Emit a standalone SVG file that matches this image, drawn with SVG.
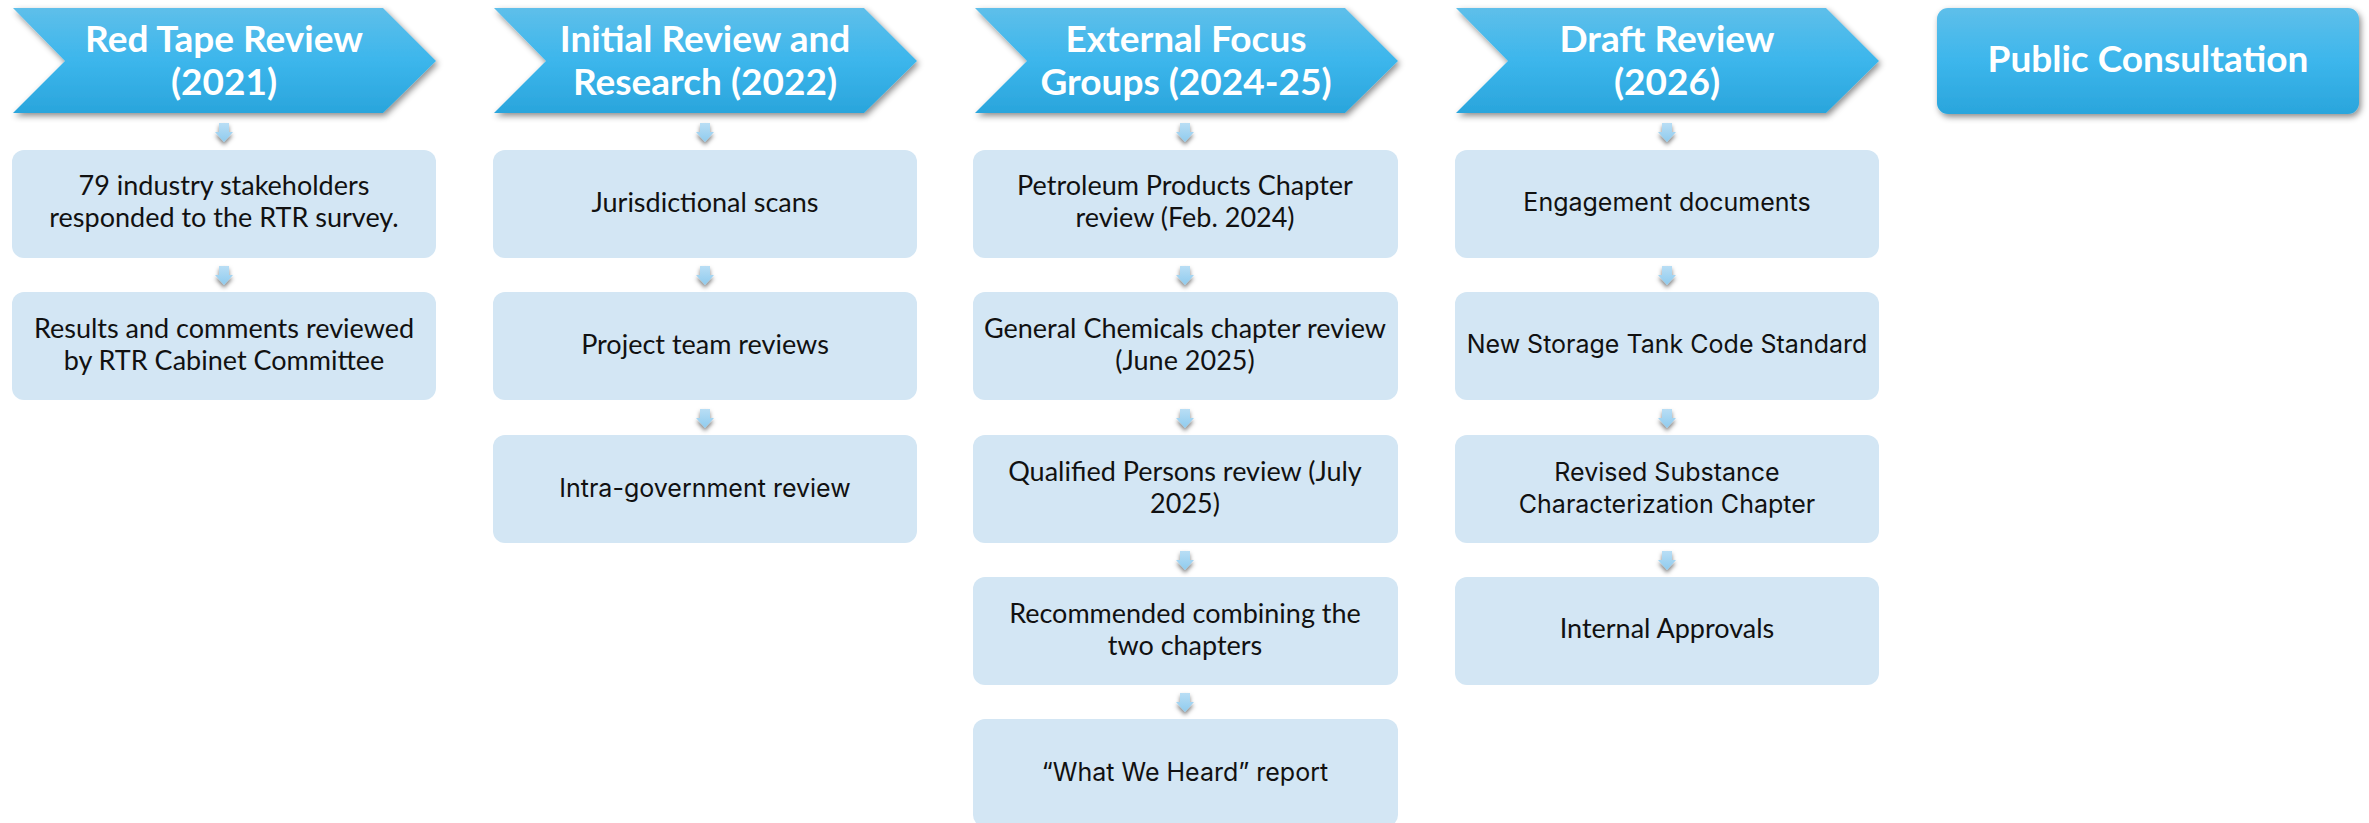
<svg xmlns="http://www.w3.org/2000/svg" xmlns:xlink="http://www.w3.org/1999/xlink" width="2369" height="823" viewBox="0 0 2369 823">
<defs>
  <linearGradient id="hg" x1="0" y1="0" x2="0" y2="1">
    <stop offset="0" stop-color="#5ebfea"/>
    <stop offset="0.5" stop-color="#3cb6ec"/>
    <stop offset="1" stop-color="#2aa5dc"/>
  </linearGradient>
  <linearGradient id="ag" x1="0" y1="0" x2="0" y2="1">
    <stop offset="0" stop-color="#b9def5"/>
    <stop offset="1" stop-color="#8fcbee"/>
  </linearGradient>
  <filter id="sh" x="-10%" y="-20%" width="125%" height="150%">
    <feDropShadow dx="2" dy="3" stdDeviation="3" flood-color="#000" flood-opacity="0.45"/>
  </filter>
  <filter id="ash" x="-60%" y="-30%" width="220%" height="180%">
    <feDropShadow dx="0" dy="3" stdDeviation="2" flood-color="#000" flood-opacity="0.5"/>
  </filter>
  <path id="chev" d="M0,0 H370 L423,53 L370,105 H0 L52,53 Z"/>
  <path id="arr" d="M-5,0 H5 V9 H9 L0,19 L-9,9 H-5 Z"/>
</defs>
<style>
  .hdr { fill: url(#hg); filter: url(#sh); }
  .ht { font-family: Lato, "Liberation Sans", sans-serif; font-weight: 700; font-size: 37px; fill: #ffffff; text-anchor: middle; }
  .box { fill: #d3e6f4; }
  .bt { font-family: Lato, "Liberation Sans", sans-serif; font-size: 27px; fill: #111111; text-anchor: middle; }
  .at { font-family: Inter, "Liberation Sans", sans-serif; font-size: 25px; fill: #111111; text-anchor: middle; }
  .arr { fill: url(#ag); filter: url(#ash); }
</style>
<rect width="2369" height="823" fill="#ffffff"/>

<g id="connectors">
  <use href="#arr" class="arr" x="224" y="123"/>
  <use href="#arr" class="arr" x="224" y="266"/>

  <use href="#arr" class="arr" x="705" y="123"/>
  <use href="#arr" class="arr" x="705" y="266"/>
  <use href="#arr" class="arr" x="705" y="409"/>

  <use href="#arr" class="arr" x="1185" y="123"/>
  <use href="#arr" class="arr" x="1185" y="266"/>
  <use href="#arr" class="arr" x="1185" y="409"/>
  <use href="#arr" class="arr" x="1185" y="551"/>
  <use href="#arr" class="arr" x="1185" y="693"/>

  <use href="#arr" class="arr" x="1667" y="123"/>
  <use href="#arr" class="arr" x="1667" y="266"/>
  <use href="#arr" class="arr" x="1667" y="409"/>
  <use href="#arr" class="arr" x="1667" y="551"/>
</g>

<!-- Column 1 -->
<g id="h1">
  <use href="#chev" class="hdr" x="13" y="8"/>
  <text class="ht" x="224" y="52">Red Tape Review</text>
  <text class="ht" x="224" y="95">(2021)</text>
</g>
<g id="c1b1">
  <rect class="box" x="12" y="150" width="424" height="108" rx="12"/>
  <text class="bt" x="224" y="195">79 industry stakeholders</text>
  <text class="bt" x="224" y="227">responded to the RTR survey.</text>
</g>
<g id="c1b2">
  <rect class="box" x="12" y="292" width="424" height="108" rx="12"/>
  <text class="bt" x="224" y="338">Results and comments reviewed</text>
  <text class="bt" x="224" y="370">by RTR Cabinet Committee</text>
</g>

<!-- Column 2 -->
<g id="h2">
  <use href="#chev" class="hdr" x="494" y="8"/>
  <text class="ht" x="705" y="52">Initial Review and</text>
  <text class="ht" x="705" y="95">Research (2022)</text>
</g>
<g id="c2b1">
  <rect class="box" x="493" y="150" width="424" height="108" rx="12"/>
  <text class="bt" x="705" y="212">Jurisdictional scans</text>
</g>
<g id="c2b2">
  <rect class="box" x="493" y="292" width="424" height="108" rx="12"/>
  <text class="bt" x="705" y="354">Project team reviews</text>
</g>
<g id="c2b3">
  <rect class="box" x="493" y="435" width="424" height="108" rx="12"/>
  <text class="at" x="705" y="497">Intra-government review</text>
</g>

<!-- Column 3 -->
<g id="h3">
  <use href="#chev" class="hdr" x="975" y="8"/>
  <text class="ht" x="1186" y="52">External Focus</text>
  <text class="ht" x="1186" y="95">Groups (2024-25)</text>
</g>
<g id="c3b1">
  <rect class="box" x="973" y="150" width="425" height="108" rx="12"/>
  <text class="bt" x="1185" y="195">Petroleum Products Chapter</text>
  <text class="bt" x="1185" y="227">review (Feb. 2024)</text>
</g>
<g id="c3b2">
  <rect class="box" x="973" y="292" width="425" height="108" rx="12"/>
  <text class="bt" x="1185" y="338">General Chemicals chapter review</text>
  <text class="bt" x="1185" y="370">(June 2025)</text>
</g>
<g id="c3b3">
  <rect class="box" x="973" y="435" width="425" height="108" rx="12"/>
  <text class="bt" x="1185" y="481">Qualified Persons review (July</text>
  <text class="bt" x="1185" y="513">2025)</text>
</g>
<g id="c3b4">
  <rect class="box" x="973" y="577" width="425" height="108" rx="12"/>
  <text class="bt" x="1185" y="623">Recommended combining the</text>
  <text class="bt" x="1185" y="655">two chapters</text>
</g>
<g id="c3b5">
  <rect class="box" x="973" y="719" width="425" height="108" rx="12"/>
  <text class="at" x="1185" y="781">“What We Heard” report</text>
</g>

<!-- Column 4 -->
<g id="h4">
  <use href="#chev" class="hdr" x="1456" y="8"/>
  <text class="ht" x="1667" y="52">Draft Review</text>
  <text class="ht" x="1667" y="95">(2026)</text>
</g>
<g id="c4b1">
  <rect class="box" x="1455" y="150" width="424" height="108" rx="12"/>
  <text class="at" x="1667" y="211">Engagement documents</text>
</g>
<g id="c4b2">
  <rect class="box" x="1455" y="292" width="424" height="108" rx="12"/>
  <text class="at" x="1667" y="353">New Storage Tank Code Standard</text>
</g>
<g id="c4b3">
  <rect class="box" x="1455" y="435" width="424" height="108" rx="12"/>
  <text class="at" x="1667" y="481">Revised Substance</text>
  <text class="at" x="1667" y="513">Characterization Chapter</text>
</g>
<g id="c4b4">
  <rect class="box" x="1455" y="577" width="424" height="108" rx="12"/>
  <text class="bt" x="1667" y="638">Internal Approvals</text>
</g>

<!-- Public Consultation -->
<g id="h5">
  <rect class="hdr" x="1937" y="8" width="422" height="106" rx="11"/>
  <text class="ht" x="2148" y="72">Public Consultation</text>
</g>
</svg>
